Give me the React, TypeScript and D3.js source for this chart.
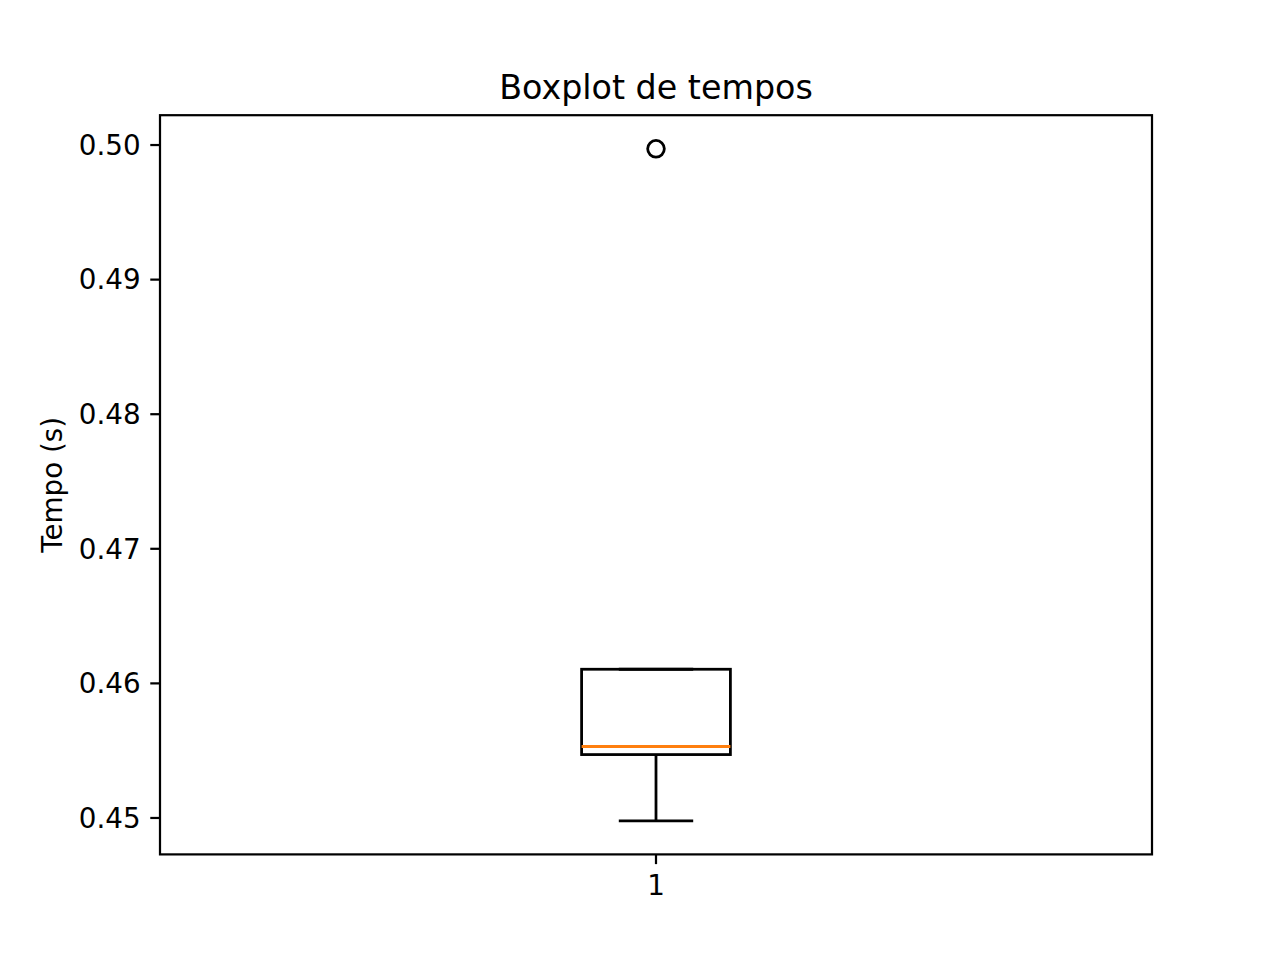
import { useEffect } from 'react'
import * as d3 from 'd3'

// boxplot stats (seconds)
const categories = ['1']
const whiskerLow = [0.44979]
const q1 = [0.45471]
const median = [0.45531]
const q3 = [0.46105]
const whiskerHigh = [0.46105]
const outliers = [[0.49972]]
const yTicks = [0.45, 0.46, 0.47, 0.48, 0.49, 0.5]

const W = 1280
const H = 960
const M = { left: 160, right: 1152, top: 115.2, bottom: 854.4 }
const PT = 200 / 72
const FONT = 'DejaVu Sans, sans-serif'

export default function App() {
  useEffect(() => {
    document.body.style.margin = '0'
  }, [])

  const lo = d3.min([...whiskerLow, ...outliers.flat()]) as number
  const hi = d3.max([...whiskerHigh, ...outliers.flat()]) as number
  const pad = (hi - lo) * 0.05

  const y = d3.scaleLinear().domain([lo - pad, hi + pad]).range([M.bottom, M.top])
  const x = d3.scaleLinear().domain([0.5, categories.length + 0.5]).range([M.left, M.right])

  const boxW = 0.15
  const lw = 1 * PT

  return (
    <svg width={W} height={H} style={{ display: 'block', background: '#fff' }} fontFamily={FONT}>
      <text x={(M.left + M.right) / 2} y={M.top - 6 * PT} textAnchor="middle" fontSize={12 * PT}>
        Boxplot de tempos
      </text>

      {categories.map((c, i) => {
        const p = i + 1
        const x0 = x(p - boxW / 2)
        const x1 = x(p + boxW / 2)
        const cx = x(p)
        const c0 = x(p - boxW / 4)
        const c1 = x(p + boxW / 4)
        return (
          <g key={c} fill="none" stroke="#000" strokeWidth={lw}>
            <rect x={x0} y={y(q3[i])} width={x1 - x0} height={y(q1[i]) - y(q3[i])} />
            <line x1={cx} x2={cx} y1={y(q1[i])} y2={y(whiskerLow[i])} />
            <line x1={cx} x2={cx} y1={y(q3[i])} y2={y(whiskerHigh[i])} />
            <line x1={c0} x2={c1} y1={y(whiskerLow[i])} y2={y(whiskerLow[i])} />
            <line x1={c0} x2={c1} y1={y(whiskerHigh[i])} y2={y(whiskerHigh[i])} />
            <line x1={x0} x2={x1} y1={y(median[i])} y2={y(median[i])} stroke="#ff7f0e" />
            {outliers[i].map((v, k) => (
              <circle key={k} cx={cx} cy={y(v)} r={3 * PT} />
            ))}
          </g>
        )
      })}

      <rect
        x={M.left}
        y={M.top}
        width={M.right - M.left}
        height={M.bottom - M.top}
        fill="none"
        stroke="#000"
        strokeWidth={0.8 * PT}
      />

      {yTicks.map(t => (
        <g key={t}>
          <line x1={M.left - 3.5 * PT} x2={M.left} y1={y(t)} y2={y(t)} stroke="#000" strokeWidth={0.8 * PT} />
          <text
            x={M.left - 7 * PT}
            y={y(t)}
            dy="0.35em"
            textAnchor="end"
            fontSize={10 * PT}
          >
            {d3.format('.2f')(t)}
          </text>
        </g>
      ))}

      {categories.map((c, i) => (
        <g key={c}>
          <line x1={x(i + 1)} x2={x(i + 1)} y1={M.bottom} y2={M.bottom + 3.5 * PT} stroke="#000" strokeWidth={0.8 * PT} />
          <text x={x(i + 1)} y={M.bottom + 7 * PT} dy="0.76em" textAnchor="middle" fontSize={10 * PT}>
            {c}
          </text>
        </g>
      ))}

      <text
        transform={`translate(62,${(M.top + M.bottom) / 2}) rotate(-90)`}
        textAnchor="middle"
        fontSize={10 * PT}
      >
        Tempo (s)
      </text>
    </svg>
  )
}
